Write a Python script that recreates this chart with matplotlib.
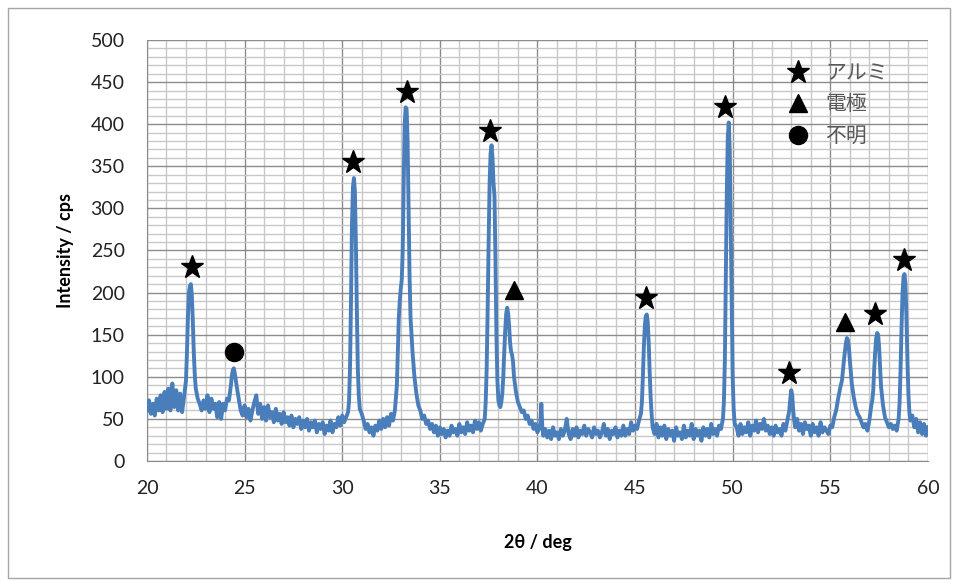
import matplotlib.pyplot as plt
from matplotlib.patches import Rectangle
import numpy as np

plt.rcParams['font.family'] = ['Lato', 'Noto Sans CJK JP', 'DejaVu Sans']

# XRD trace: (2theta, cps) per region
seg_20_25 = [
    (20.0, 60), (20.1, 72), (20.2, 56), (20.3, 68), (20.4, 54), (20.5, 74), (20.6, 60),
    (20.7, 78), (20.8, 58), (20.9, 82), (21.0, 62), (21.1, 86), (21.2, 60), (21.3, 92),
    (21.4, 64), (21.5, 84), (21.6, 60), (21.7, 80), (21.8, 58), (21.9, 76), (22.0, 96),
    (22.05, 130), (22.1, 172), (22.15, 200), (22.2, 208), (22.25, 210), (22.3, 196),
    (22.35, 165), (22.4, 128), (22.45, 102), (22.5, 86), (22.6, 74), (22.7, 68),
    (22.8, 60), (22.9, 72), (23.0, 62), (23.1, 78), (23.2, 58), (23.3, 74), (23.4, 62),
    (23.5, 68), (23.6, 52), (23.7, 70), (23.8, 50), (23.9, 68), (24.0, 60), (24.1, 74),
    (24.2, 72), (24.3, 90), (24.35, 102), (24.4, 108), (24.45, 110), (24.5, 104),
    (24.55, 96), (24.6, 88), (24.7, 74), (24.8, 60), (24.9, 54),
]
seg_25_30 = [
    (25.0, 66), (25.1, 52), (25.2, 62), (25.3, 48), (25.4, 60), (25.5, 70), (25.6, 78),
    (25.7, 56), (25.8, 68), (25.9, 50), (26.0, 64), (26.1, 48), (26.2, 66), (26.3, 52),
    (26.4, 58), (26.5, 46), (26.6, 62), (26.7, 48), (26.8, 56), (26.9, 44), (27.0, 58),
    (27.1, 46), (27.2, 52), (27.3, 42), (27.4, 54), (27.5, 40), (27.6, 50), (27.7, 44),
    (27.8, 52), (27.9, 38), (28.0, 48), (28.1, 40), (28.2, 50), (28.3, 36), (28.4, 46),
    (28.5, 40), (28.6, 48), (28.7, 34), (28.8, 44), (28.9, 38), (29.0, 46), (29.1, 32),
    (29.2, 42), (29.3, 36), (29.4, 48), (29.5, 34), (29.6, 44), (29.7, 40), (29.8, 52),
    (29.9, 42),
]
seg_30_35 = [
    (30.0, 54), (30.1, 46), (30.2, 52), (30.3, 58), (30.35, 70), (30.4, 110),
    (30.45, 190), (30.5, 280), (30.55, 325), (30.6, 336), (30.65, 320), (30.7, 260),
    (30.75, 180), (30.8, 110), (30.85, 78), (30.9, 62), (31.0, 56), (31.1, 48),
    (31.2, 38), (31.3, 44), (31.4, 34), (31.5, 40), (31.6, 30), (31.7, 42), (31.8, 36),
    (31.9, 48), (32.0, 38), (32.1, 50), (32.2, 40), (32.3, 52), (32.4, 42), (32.5, 56),
    (32.6, 48), (32.7, 60), (32.8, 90), (32.85, 130), (32.9, 170), (32.95, 190),
    (33.0, 205), (33.05, 215), (33.1, 250), (33.15, 330), (33.2, 400), (33.25, 420),
    (33.3, 418), (33.35, 380), (33.4, 300), (33.45, 220), (33.5, 170), (33.6, 130),
    (33.7, 100), (33.8, 80), (33.9, 66), (34.0, 60), (34.1, 50), (34.2, 54), (34.3, 44),
    (34.4, 48), (34.5, 38), (34.6, 44), (34.7, 34), (34.8, 42), (34.9, 30),
]
seg_35_40 = [
    (35.0, 40), (35.1, 32), (35.2, 38), (35.3, 28), (35.4, 36), (35.5, 30), (35.6, 42),
    (35.7, 34), (35.8, 38), (35.9, 30), (36.0, 44), (36.1, 34), (36.2, 40), (36.3, 32),
    (36.4, 46), (36.5, 36), (36.6, 42), (36.7, 34), (36.8, 48), (36.9, 38), (37.0, 46),
    (37.1, 36), (37.2, 44), (37.3, 50), (37.35, 70), (37.4, 110), (37.45, 180),
    (37.5, 260), (37.55, 330), (37.6, 365), (37.65, 375), (37.7, 360), (37.75, 330),
    (37.8, 315), (37.85, 240), (37.9, 150), (37.95, 95), (38.0, 72), (38.05, 66),
    (38.1, 64), (38.15, 70), (38.2, 80), (38.25, 100), (38.3, 130), (38.35, 155),
    (38.4, 175), (38.45, 182), (38.5, 175), (38.55, 160), (38.6, 140), (38.65, 130),
    (38.7, 126), (38.75, 118), (38.8, 100), (38.9, 82), (39.0, 70), (39.1, 64),
    (39.2, 58), (39.3, 60), (39.4, 50), (39.5, 54), (39.6, 44), (39.7, 48), (39.8, 38),
    (39.9, 44),
]
seg_40_45 = [
    (40.0, 34), (40.1, 40), (40.15, 45), (40.2, 68), (40.25, 40), (40.3, 30), (40.4, 38),
    (40.5, 28), (40.6, 36), (40.7, 26), (40.8, 40), (40.9, 30), (41.0, 34), (41.1, 26),
    (41.2, 38), (41.3, 30), (41.4, 36), (41.5, 50), (41.6, 32), (41.7, 26), (41.8, 38),
    (41.9, 30), (42.0, 40), (42.1, 28), (42.2, 36), (42.3, 32), (42.4, 42), (42.5, 30),
    (42.6, 38), (42.7, 34), (42.8, 28), (42.9, 40), (43.0, 32), (43.1, 36), (43.2, 28),
    (43.3, 34), (43.4, 44), (43.5, 30), (43.6, 38), (43.7, 26), (43.8, 36), (43.9, 32),
    (44.0, 40), (44.1, 28), (44.2, 36), (44.3, 30), (44.4, 42), (44.5, 30), (44.6, 38),
    (44.7, 32), (44.8, 46), (44.9, 36),
]
seg_45_50 = [
    (45.0, 42), (45.1, 38), (45.2, 48), (45.3, 56), (45.35, 70), (45.4, 100),
    (45.45, 135), (45.5, 160), (45.55, 172), (45.6, 174), (45.65, 165), (45.7, 140),
    (45.75, 105), (45.8, 75), (45.85, 55), (45.9, 40), (46.0, 32), (46.1, 44), (46.2, 28),
    (46.3, 40), (46.4, 30), (46.5, 42), (46.6, 26), (46.7, 38), (46.8, 30), (46.9, 36),
    (47.0, 24), (47.1, 40), (47.2, 30), (47.3, 34), (47.4, 26), (47.5, 42), (47.6, 28),
    (47.7, 36), (47.8, 30), (47.9, 44), (48.0, 26), (48.1, 38), (48.2, 30), (48.3, 36),
    (48.4, 24), (48.5, 40), (48.6, 30), (48.7, 38), (48.8, 28), (48.9, 44), (49.0, 32),
    (49.1, 38), (49.2, 30), (49.3, 42), (49.4, 38), (49.5, 50), (49.55, 70), (49.6, 120),
    (49.65, 220), (49.7, 320), (49.75, 385), (49.8, 402), (49.85, 370), (49.9, 280),
    (49.95, 180),
]
seg_50_55 = [
    (50.0, 100), (50.05, 62), (50.1, 45), (50.2, 40), (50.3, 30), (50.4, 44), (50.5, 32),
    (50.6, 40), (50.7, 34), (50.8, 46), (50.9, 30), (51.0, 42), (51.1, 36), (51.2, 48),
    (51.3, 34), (51.4, 44), (51.5, 38), (51.6, 50), (51.7, 36), (51.8, 42), (51.9, 32),
    (52.0, 40), (52.1, 30), (52.2, 42), (52.3, 34), (52.4, 38), (52.5, 30), (52.6, 44),
    (52.7, 36), (52.8, 48), (52.9, 60), (52.95, 74), (53.0, 84), (53.05, 78), (53.1, 60),
    (53.15, 48), (53.2, 40), (53.3, 50), (53.4, 36), (53.5, 44), (53.6, 32), (53.7, 46),
    (53.8, 38), (53.9, 42), (54.0, 30), (54.1, 44), (54.2, 34), (54.3, 40), (54.4, 30),
    (54.5, 46), (54.6, 34), (54.7, 40), (54.8, 36), (54.9, 32),
]
seg_55_60 = [
    (55.0, 42), (55.1, 40), (55.2, 52), (55.3, 60), (55.4, 74), (55.5, 86), (55.6, 96),
    (55.7, 120), (55.8, 140), (55.85, 146), (55.9, 144), (55.95, 135), (56.0, 120),
    (56.1, 92), (56.2, 76), (56.3, 64), (56.4, 56), (56.5, 52), (56.6, 46), (56.7, 40),
    (56.8, 44), (56.9, 36), (57.0, 48), (57.1, 66), (57.15, 72), (57.2, 84), (57.25, 110),
    (57.3, 130), (57.35, 146), (57.4, 152), (57.45, 150), (57.5, 135), (57.55, 112),
    (57.6, 88), (57.7, 66), (57.8, 52), (57.9, 46), (58.0, 40), (58.1, 44), (58.2, 38),
    (58.3, 42), (58.4, 36), (58.5, 50), (58.55, 70), (58.6, 110), (58.65, 160),
    (58.7, 200), (58.75, 218), (58.8, 222), (58.85, 210), (58.9, 170), (58.95, 120),
    (59.0, 80), (59.05, 58), (59.1, 48), (59.2, 54), (59.3, 40), (59.4, 50), (59.5, 34),
    (59.6, 46), (59.7, 32), (59.8, 44), (59.9, 30), (60.0, 40),
]

# peak markers
alumina_x = [22.3, 30.55, 33.32, 37.57, 45.56, 49.6, 52.88, 57.29, 58.77]
alumina_y = [230, 355, 438, 392, 194, 420, 105, 175, 239]
electrode_x = [38.8, 55.75]
electrode_y = [203, 165]
unknown_x = [24.46]
unknown_y = [129]

legend_labels = ['アルミ', '電極', '不明']

trace = np.array(seg_20_25 + seg_25_30 + seg_30_35 + seg_35_40 +
                 seg_40_45 + seg_45_50 + seg_50_55 + seg_55_60)

fig = plt.figure(figsize=(9.58, 5.83), dpi=100)
ax = fig.add_axes([0.1534, 0.2093, 0.8152, 0.7221])

# outer chart border
fig.patches.append(Rectangle((8 / 958, 5 / 583), 942 / 958, 570 / 583,
                             transform=fig.transFigure, fill=False,
                             edgecolor='#a6a6a6', linewidth=1.0))

ax.plot(trace[:, 0], trace[:, 1], color='#4a7ebb', linewidth=2.8, zorder=3)

h1, = ax.plot(alumina_x, alumina_y, linestyle='none', marker='*', markersize=17,
              color='black', label=legend_labels[0], zorder=4)
h2, = ax.plot(electrode_x, electrode_y, linestyle='none', marker='^', markersize=13,
              color='black', label=legend_labels[1], zorder=4)
h3, = ax.plot(unknown_x, unknown_y, linestyle='none', marker='o', markersize=13,
              color='black', label=legend_labels[2], zorder=4)

ax.set_xlim(20, 60)
ax.set_ylim(0, 500)
ax.set_xticks(range(20, 61, 5))
ax.set_yticks(range(0, 501, 50))
ax.set_xticks(range(20, 61, 1), minor=True)
ax.set_yticks(range(0, 501, 10), minor=True)
ax.grid(which='major', color='#8c8c8c', linewidth=1.0)
ax.grid(which='minor', color='#c8c8c8', linewidth=1.0)
ax.set_axisbelow(True)

for side in ['top', 'right']:
    ax.spines[side].set_visible(False)
for side in ['left', 'bottom']:
    ax.spines[side].set_color('#8c8c8c')

ax.tick_params(which='both', length=0)
ax.tick_params(axis='y', labelsize=14, pad=16, labelcolor='#222222')
ax.tick_params(axis='x', labelsize=14, pad=14, labelcolor='#222222')

ax.set_xlabel('2θ / deg', fontsize=13, fontweight='bold', labelpad=26)
ax.set_ylabel('Intensity / cps', fontsize=13, fontweight='bold', labelpad=12)

leg = ax.legend(handles=[h1, h2, h3], loc='upper left', bbox_to_anchor=(0.79, 0.99),
                frameon=False, numpoints=1, handlelength=1.5, handletextpad=0.55,
                labelspacing=0.55, fontsize=15)
for t in leg.get_texts():
    t.set_color('#595959')

fig.savefig('out.png', dpi=100)
